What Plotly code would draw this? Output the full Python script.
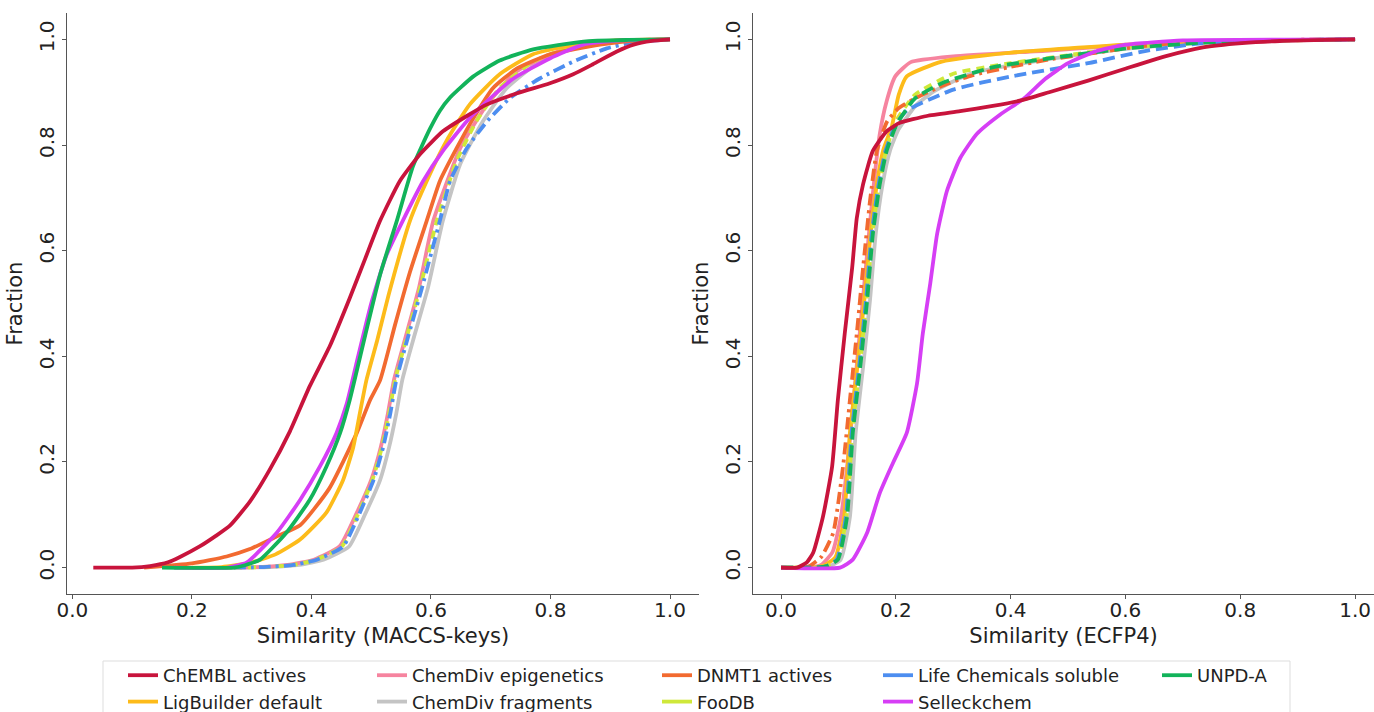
import plotly.graph_objects as go

# ---------------- data ----------------
names = ["ChEMBL actives", "ChemDiv epigenetics", "DNMT1 actives", "Life Chemicals soluble", "UNPD-A",
         "LigBuilder default", "ChemDiv fragments", "FooDB", "Selleckchem"]

# Left panel: Similarity (MACCS-keys)
chembl_L_x = [0.035, 0.10, 0.13, 0.16, 0.18, 0.213, 0.24, 0.264, 0.297, 0.33, 0.364, 0.397, 0.431, 0.464, 0.49, 0.515, 0.548, 0.582, 0.62, 0.66, 0.694, 0.744, 0.799, 0.838, 0.871, 0.911, 0.939, 0.97, 1.0]
chembl_L_y = [0, 0, 0.003, 0.01, 0.02, 0.04, 0.06, 0.08, 0.125, 0.185, 0.258, 0.343, 0.42, 0.51, 0.585, 0.657, 0.732, 0.783, 0.826, 0.855, 0.877, 0.898, 0.917, 0.934, 0.953, 0.977, 0.99, 0.997, 1.0]
unpd_L_x = [0.15, 0.27, 0.29, 0.314, 0.358, 0.397, 0.425, 0.448, 0.464, 0.49, 0.515, 0.543, 0.57, 0.598, 0.615, 0.632, 0.671, 0.715, 0.771, 0.855, 0.93, 1.0]
unpd_L_y = [0, 0, 0.005, 0.015, 0.066, 0.128, 0.191, 0.255, 0.317, 0.44, 0.555, 0.657, 0.76, 0.83, 0.865, 0.89, 0.93, 0.96, 0.981, 0.996, 0.999, 1.0]
selleck_L_x = [0.17, 0.26, 0.292, 0.342, 0.381, 0.414, 0.442, 0.459, 0.476, 0.5, 0.525, 0.553, 0.587, 0.62, 0.66, 0.694, 0.738, 0.799, 0.855, 0.92, 1.0]
selleck_L_y = [0, 0, 0.01, 0.066, 0.128, 0.191, 0.255, 0.31, 0.39, 0.5, 0.59, 0.657, 0.732, 0.789, 0.845, 0.883, 0.926, 0.964, 0.99, 0.998, 1.0]
ligb_L_x = [0.2, 0.25, 0.297, 0.34, 0.381, 0.425, 0.453, 0.47, 0.481, 0.492, 0.51, 0.53, 0.565, 0.593, 0.626, 0.665, 0.715, 0.771, 0.855, 0.93, 1.0]
ligb_L_y = [0, 0.001, 0.009, 0.025, 0.053, 0.104, 0.166, 0.228, 0.292, 0.355, 0.43, 0.52, 0.657, 0.732, 0.808, 0.877, 0.934, 0.972, 0.993, 0.999, 1.0]
dnmt_L_x = [0.12, 0.2, 0.258, 0.297, 0.34, 0.381, 0.43, 0.476, 0.498, 0.515, 0.54, 0.565, 0.593, 0.615, 0.643, 0.671, 0.704, 0.744, 0.799, 0.883, 0.95, 1.0]
dnmt_L_y = [0, 0.008, 0.021, 0.035, 0.058, 0.08, 0.15, 0.255, 0.317, 0.355, 0.46, 0.56, 0.657, 0.732, 0.794, 0.851, 0.908, 0.945, 0.972, 0.99, 0.998, 1.0]
life_L_x = [0.27, 0.32, 0.37, 0.409, 0.453, 0.481, 0.504, 0.52, 0.532, 0.542, 0.56, 0.585, 0.615, 0.632, 0.66, 0.694, 0.732, 0.782, 0.838, 0.894, 0.94, 1.0]
life_L_y = [0, 0.001, 0.005, 0.015, 0.04, 0.104, 0.166, 0.228, 0.292, 0.355, 0.43, 0.53, 0.657, 0.732, 0.794, 0.845, 0.889, 0.926, 0.958, 0.983, 0.995, 1.0]
frag_L_x = [0.28, 0.33, 0.38, 0.42, 0.463, 0.491, 0.515, 0.53, 0.542, 0.552, 0.57, 0.595, 0.62, 0.649, 0.687, 0.727, 0.782, 0.855, 0.93, 1.0]
frag_L_y = [0, 0.001, 0.005, 0.015, 0.04, 0.104, 0.166, 0.228, 0.292, 0.355, 0.43, 0.53, 0.657, 0.764, 0.845, 0.908, 0.958, 0.99, 0.998, 1.0]
epi_L_x = [0.25, 0.31, 0.36, 0.404, 0.447, 0.476, 0.5, 0.516, 0.528, 0.538, 0.556, 0.58, 0.604, 0.649, 0.694, 0.744, 0.827, 0.9, 1.0]
epi_L_y = [0, 0.001, 0.005, 0.015, 0.04, 0.104, 0.166, 0.228, 0.292, 0.355, 0.43, 0.53, 0.657, 0.794, 0.877, 0.94, 0.983, 0.997, 1.0]
foodb_L_x = [0.27, 0.32, 0.37, 0.408, 0.451, 0.479, 0.502, 0.518, 0.53, 0.54, 0.558, 0.582, 0.61, 0.643, 0.676, 0.715, 0.771, 0.827, 0.9, 1.0]
foodb_L_y = [0, 0.001, 0.005, 0.015, 0.04, 0.104, 0.166, 0.228, 0.292, 0.355, 0.43, 0.53, 0.657, 0.77, 0.845, 0.908, 0.958, 0.983, 0.997, 1.0]

# Right panel: Similarity (ECFP4)
chembl_R_x = [0, 0.028, 0.045, 0.056, 0.073, 0.089, 0.099, 0.111, 0.124, 0.132, 0.143, 0.16, 0.184, 0.207, 0.254, 0.312, 0.369, 0.42, 0.467, 0.535, 0.601, 0.669, 0.735, 0.803, 0.869, 1.0]
chembl_R_y = [0, 0, 0.01, 0.028, 0.096, 0.191, 0.317, 0.443, 0.568, 0.662, 0.726, 0.789, 0.826, 0.842, 0.855, 0.864, 0.874, 0.885, 0.9, 0.922, 0.945, 0.968, 0.985, 0.993, 0.997, 1.0]
selleck_R_x = [0, 0.103, 0.125, 0.15, 0.172, 0.195, 0.219, 0.237, 0.247, 0.26, 0.272, 0.289, 0.312, 0.341, 0.382, 0.422, 0.46, 0.5, 0.55, 0.6, 0.7, 1.0]
selleck_R_y = [0, 0, 0.015, 0.066, 0.141, 0.198, 0.255, 0.349, 0.443, 0.538, 0.632, 0.713, 0.775, 0.821, 0.858, 0.887, 0.925, 0.955, 0.978, 0.99, 0.998, 1.0]
dnmt_R_x = [0, 0.04, 0.05, 0.07, 0.091, 0.108, 0.12, 0.132, 0.143, 0.155, 0.167, 0.185, 0.205, 0.233, 0.28, 0.333, 0.4, 0.467, 0.55, 0.65, 0.8, 1.0]
dnmt_R_y = [0, 0, 0.003, 0.02, 0.066, 0.191, 0.317, 0.443, 0.568, 0.694, 0.789, 0.845, 0.87, 0.888, 0.912, 0.932, 0.948, 0.962, 0.975, 0.99, 0.998, 1.0]
unpd_R_x = [0, 0.06, 0.08, 0.099, 0.115, 0.125, 0.138, 0.15, 0.16, 0.172, 0.184, 0.202, 0.233, 0.28, 0.368, 0.467, 0.601, 0.735, 0.85, 1.0]
unpd_R_y = [0, 0, 0.003, 0.015, 0.096, 0.255, 0.38, 0.506, 0.632, 0.726, 0.789, 0.84, 0.888, 0.917, 0.947, 0.964, 0.983, 0.994, 0.998, 1.0]
life_R_x = [0, 0.06, 0.08, 0.097, 0.113, 0.123, 0.136, 0.148, 0.158, 0.17, 0.182, 0.2, 0.219, 0.3, 0.401, 0.535, 0.634, 0.735, 0.85, 1.0]
life_R_y = [0, 0, 0.003, 0.015, 0.096, 0.255, 0.38, 0.506, 0.632, 0.726, 0.789, 0.84, 0.865, 0.905, 0.93, 0.955, 0.978, 0.993, 0.998, 1.0]
frag_R_x = [0, 0.065, 0.085, 0.104, 0.12, 0.13, 0.143, 0.155, 0.165, 0.177, 0.19, 0.205, 0.235, 0.267, 0.33, 0.45, 0.6, 0.75, 1.0]
frag_R_y = [0, 0, 0.003, 0.015, 0.096, 0.255, 0.38, 0.506, 0.632, 0.726, 0.79, 0.83, 0.875, 0.902, 0.935, 0.96, 0.982, 0.995, 1.0]
epi_R_x = [0, 0.05, 0.07, 0.09, 0.105, 0.118, 0.13, 0.142, 0.153, 0.163, 0.172, 0.184, 0.199, 0.226, 0.3, 0.467, 0.669, 0.8, 1.0]
epi_R_y = [0, 0, 0.005, 0.03, 0.1, 0.22, 0.36, 0.5, 0.63, 0.74, 0.821, 0.883, 0.93, 0.957, 0.968, 0.979, 0.994, 0.998, 1.0]
ligb_R_x = [0, 0.055, 0.075, 0.095, 0.11, 0.12, 0.133, 0.145, 0.156, 0.167, 0.178, 0.193, 0.205, 0.219, 0.28, 0.401, 0.601, 0.75, 1.0]
ligb_R_y = [0, 0, 0.004, 0.02, 0.096, 0.255, 0.38, 0.506, 0.632, 0.726, 0.79, 0.835, 0.895, 0.93, 0.958, 0.975, 0.99, 0.997, 1.0]
foodb_R_x = [0, 0.06, 0.08, 0.098, 0.114, 0.124, 0.137, 0.149, 0.159, 0.171, 0.183, 0.2, 0.233, 0.3, 0.4, 0.5, 0.6, 0.75, 1.0]
foodb_R_y = [0, 0, 0.003, 0.015, 0.096, 0.255, 0.38, 0.506, 0.632, 0.726, 0.789, 0.845, 0.895, 0.935, 0.955, 0.97, 0.985, 0.995, 1.0]

x_ticks = [0.0, 0.2, 0.4, 0.6, 0.8, 1.0]
y_ticks = [0.0, 0.2, 0.4, 0.6, 0.8, 1.0]
tick_text = ["0.0", "0.2", "0.4", "0.6", "0.8", "1.0"]

# ---------------- styles ----------------
colors = {
    "ChEMBL actives": "#c8143c",
    "LigBuilder default": "#fdbb1a",
    "ChemDiv epigenetics": "#f6849f",
    "ChemDiv fragments": "#c4c4c4",
    "DNMT1 actives": "#f26a30",
    "FooDB": "#cfe83a",
    "Life Chemicals soluble": "#4d8ef0",
    "Selleckchem": "#d63ef5",
    "UNPD-A": "#12b35a",
}
W = 3.8
FONT = "DejaVu Sans"
SMOOTH = 0.5

left_series = [
    ("ChemDiv fragments", frag_L_x, frag_L_y, "solid"),
    ("ChemDiv epigenetics", epi_L_x, epi_L_y, "solid"),
    ("FooDB", foodb_L_x, foodb_L_y, "8px,6px"),
    ("Life Chemicals soluble", life_L_x, life_L_y, "12px,5px,3px,5px"),
    ("DNMT1 actives", dnmt_L_x, dnmt_L_y, "solid"),
    ("LigBuilder default", ligb_L_x, ligb_L_y, "solid"),
    ("Selleckchem", selleck_L_x, selleck_L_y, "solid"),
    ("UNPD-A", unpd_L_x, unpd_L_y, "solid"),
    ("ChEMBL actives", chembl_L_x, chembl_L_y, "solid"),
]
right_series = [
    ("ChemDiv fragments", frag_R_x, frag_R_y, "solid"),
    ("ChemDiv epigenetics", epi_R_x, epi_R_y, "solid"),
    ("LigBuilder default", ligb_R_x, ligb_R_y, "solid"),
    ("FooDB", foodb_R_x, foodb_R_y, "8px,6px"),
    ("DNMT1 actives", dnmt_R_x, dnmt_R_y, "12px,5px,3px,5px"),
    ("Life Chemicals soluble", life_R_x, life_R_y, "12px,6px"),
    ("UNPD-A", unpd_R_x, unpd_R_y, "12px,6px"),
    ("Selleckchem", selleck_R_x, selleck_R_y, "solid"),
    ("ChEMBL actives", chembl_R_x, chembl_R_y, "solid"),
]

fig = go.Figure()
for nm, xs, ys, dash in left_series:
    fig.add_trace(go.Scatter(x=xs, y=ys, mode="lines", showlegend=False, hoverinfo="skip",
                             line=dict(color=colors[nm], width=W, dash=dash, shape="spline", smoothing=SMOOTH),
                             xaxis="x", yaxis="y"))
for nm, xs, ys, dash in right_series:
    fig.add_trace(go.Scatter(x=xs, y=ys, mode="lines", showlegend=False, hoverinfo="skip",
                             line=dict(color=colors[nm], width=W, dash=dash, shape="spline", smoothing=SMOOTH),
                             xaxis="x2", yaxis="y2"))

# legend entries: 5 columns of 2 rows (column-major like the original)
legend_cols = [["ChEMBL actives", "LigBuilder default"],
               ["ChemDiv epigenetics", "ChemDiv fragments"],
               ["DNMT1 actives", "FooDB"],
               ["Life Chemicals soluble", "Selleckchem"],
               ["UNPD-A"]]
legend_ids = ["legend", "legend2", "legend3", "legend4", "legend5"]
for lid, col in zip(legend_ids, legend_cols):
    for nm in col:
        fig.add_trace(go.Scatter(x=[None], y=[None], mode="lines", name=nm, legend=lid,
                                 line=dict(color=colors[nm], width=W), xaxis="x", yaxis="y"))

# ---------------- layout ----------------
FIG_W, FIG_H = 1374, 712
ML, MR, MT, MB = 67, 0, 13, 118
pw = FIG_W - ML - MR
ph = FIG_H - MT - MB


def px_x(p):
    return (p - ML) / pw


def px_y(p):
    return (FIG_H - MB - p) / ph


axis_common = dict(showgrid=False, zeroline=False, showline=True, linecolor="#555555", linewidth=1.3,
                   ticks="outside", ticklen=4, tickwidth=1, tickcolor="#555555",
                   tickfont=dict(family=FONT, size=20, color="#222222"), mirror=False)

legend_text_x = [163, 412, 697, 918, 1197]
legends = {}
for lid, tx in zip(legend_ids, legend_text_x):
    legends[lid] = dict(x=px_x(tx - 40), y=px_y(657), xanchor="left", yanchor="top",
                        orientation="v", bgcolor="rgba(0,0,0,0)", borderwidth=0,
                        font=dict(family=FONT, size=18, color="#222222"), itemwidth=30,
                        tracegroupgap=0)

title_font = dict(family=FONT, size=21, color="#222222")
fig.update_layout(
    width=FIG_W, height=FIG_H,
    margin=dict(l=ML, r=MR, t=MT, b=MB, pad=0, autoexpand=False),
    paper_bgcolor="white", plot_bgcolor="white",
    font=dict(family=FONT, color="#222222"),
    xaxis=dict(domain=[0, px_x(699)], range=[-0.009, 1.0485], tickvals=x_ticks, ticktext=tick_text,
               title=dict(text="Similarity (MACCS-keys)", font=title_font, standoff=7),
               anchor="y", ticklabelstandoff=-6, **axis_common),
    yaxis=dict(domain=[0, 1], range=[-0.05, 1.05], tickvals=y_ticks, ticktext=tick_text, tickangle=-90,
               title=dict(text="Fraction", font=title_font, standoff=6),
               anchor="x", **axis_common),
    xaxis2=dict(domain=[px_x(753), 1.0], range=[-0.0488, 1.033], tickvals=x_ticks, ticktext=tick_text,
                title=dict(text="Similarity (ECFP4)", font=title_font, standoff=7),
                anchor="y2", ticklabelstandoff=-6, **axis_common),
    yaxis2=dict(domain=[0, 1], range=[-0.05, 1.05], tickvals=y_ticks, ticktext=tick_text, tickangle=-90,
                title=dict(text="Fraction", font=title_font, standoff=6),
                anchor="x2", **axis_common),
    shapes=[dict(type="rect", xref="paper", yref="paper",
                 x0=px_x(103), x1=px_x(1290), y0=px_y(661), y1=px_y(730),
                 line=dict(color="#dddddd", width=1), fillcolor="rgba(0,0,0,0)", layer="below")],
    **legends,
)

fig.write_html("out.html")
